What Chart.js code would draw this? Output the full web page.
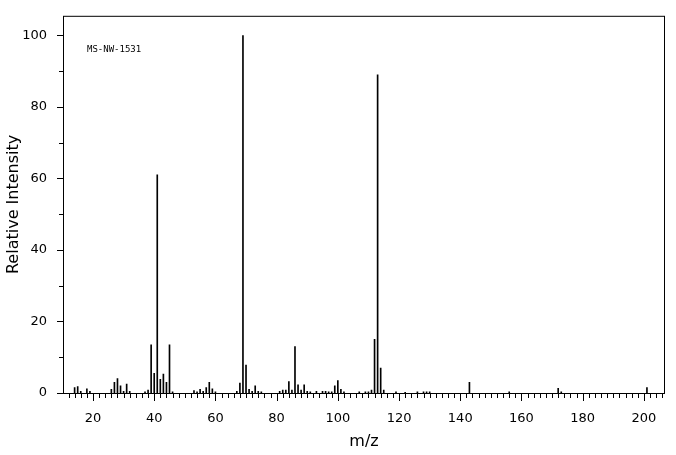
<!DOCTYPE html><html><head><script src="https://cdn.jsdelivr.net/npm/chart.js@4"></script>
<style>body{margin:0;background:#fff}#w{width:676px;height:455px}</style></head><body><div id="w"><canvas id="c"></canvas></div>
<script>
const mz=[14,15,16,18,19,26,27,28,29,30,31,32,37,38,39,40,41,42,43,44,45,46,53,54,55,56,57,58,59,60,67,68,69,70,71,72,73,74,75,81,82,83,84,85,86,87,88,89,90,91,93,95,96,97,98,99,100,101,102,107,109,110,111,112,113,114,115,119,122,126,128,129,130,143,156,172,173,201];
const intensity=[1.5,1.8,0.5,1.2,0.5,1,3,4,2,0.5,2.5,0.5,0.3,0.8,13.5,5.5,61,3.8,5.3,3,13.5,0.3,0.7,0.3,1,0.5,1.5,3,1.2,0.3,0.5,2.8,100,7.8,1,0.5,2,0.5,0.3,0.5,0.8,0.8,3.2,0.8,13,2.3,0.8,2.3,0.5,0.3,0.5,0.5,0.5,0.3,0.3,2,3.5,1,0.3,0.3,0.3,0.3,0.8,15,89,7,0.8,0.3,0.2,0.3,0.3,0.3,0.3,3,0.3,1.3,0.3,1.5];
const xTickLabels=[20,40,60,80,100,120,140,160,180,200];
const yTickLabels=[0,20,40,60,80,100];
const F='"DejaVu Sans", sans-serif';
const ticksPlugin={id:'tk',afterDraw(ch){const c=ch.ctx,a=ch.chartArea,x=ch.scales.x,y=ch.scales.y;c.save();c.strokeStyle='#000';c.lineWidth=1;
c.strokeRect(a.left+0.5,a.top+0.5,a.right-a.left-1,a.bottom-a.top);
c.beginPath();for(let v=12;v<=206;v+=2){const p=Math.round(x.getPixelForValue(v))+0.5;c.moveTo(p,a.bottom);c.lineTo(p,a.bottom+(v%20===0?8:5));}
for(let v=0;v<=100;v+=10){const p=Math.round(y.getPixelForValue(v))+0.5;c.moveTo(a.left,p);c.lineTo(a.left-(v%20===0?6:4),p);}
c.stroke();c.fillStyle='#000';c.font='9px "DejaVu Sans Mono", monospace';c.fillText('MS-NW-1531',a.left+24,a.top+36);c.restore();}};
new Chart(document.getElementById('c'),{type:'bar',data:{datasets:[{data:mz.map((m,i)=>({x:m,y:intensity[i]})),backgroundColor:'#000',barThickness:1}]},
options:{responsive:true,maintainAspectRatio:false,animation:false,layout:{padding:{top:1,right:11,left:0,bottom:0}},plugins:{legend:{display:false},tooltip:{enabled:false}},
scales:{x:{type:'linear',offset:false,min:10.2,max:206.9,afterFit(s){s.height=62;},afterBuildTicks(s){s.ticks=xTickLabels.map(v=>({value:v}));},grid:{display:false,offset:false},border:{display:false},ticks:{color:'#000',font:{family:F,size:13},padding:10,maxRotation:0},title:{display:true,text:'m/z',color:'#000',font:{family:F,size:16},padding:{top:0}}},
y:{min:0,max:105.5,afterFit(s){s.width=63;},afterBuildTicks(s){s.ticks=yTickLabels.map(v=>({value:v}));},grid:{display:false},border:{display:false},ticks:{color:'#000',font:{family:F,size:13},padding:8},title:{display:true,text:'Relative Intensity',color:'#000',font:{family:F,size:16},padding:{bottom:2}}}}},plugins:[ticksPlugin]});
</script></body></html>
